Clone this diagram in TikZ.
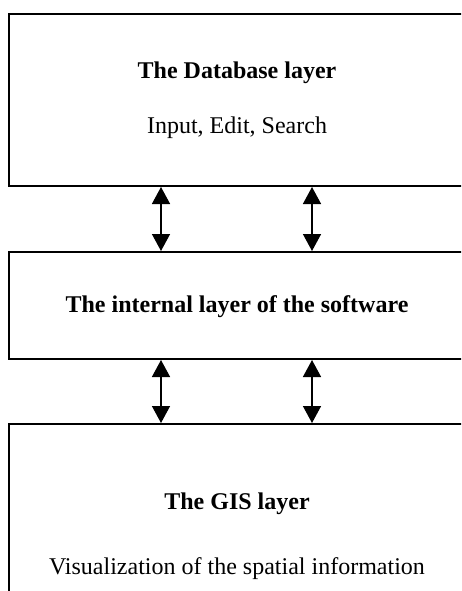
\documentclass[tikz,border=0pt]{standalone}
\usepackage{fontspec}
\setmainfont{Liberation Serif}
\usetikzlibrary{arrows.meta}
\begin{document}
\begin{tikzpicture}[x=1pt,y=-1pt,
  layer/.style={draw=black,line width=2pt,rectangle,minimum width=461pt,inner sep=0pt},
  lbl/.style={font=\fontsize{24}{28}\selectfont,inner sep=0pt},
  blbl/.style={font=\fontsize{24}{28}\selectfont\bfseries,inner sep=0pt},
  arr/.style={line width=1.5pt,{Triangle[width=18pt,length=17pt]}-{Triangle[width=18pt,length=17pt]}}]
\useasboundingbox (0,0) rectangle (461,591);
\clip (0,0) rectangle (461,591);
\node[layer,minimum height=172pt] (db) at (239.5,100) {};
\node[layer,minimum height=107pt] (mid) at (239.5,305.5) {};
\node[layer,minimum height=200pt] (gis) at (239.5,524) {};
\node[blbl] (t1) at (237,73) {The Database layer};
\node[lbl] (t2) at (237,128) {Input, Edit, Search};
\node[blbl] (t3) at (237,307) {The internal layer of the software};
\node[blbl] (t4) at (237,504) {The GIS layer};
\node[lbl] (t5) at (237,569) {Visualization of the spatial information};
\coordinate (c1) at (161,0);
\coordinate (c2) at (312,0);
\draw[arr] (c1 |- db.south) -- (c1 |- mid.north);
\draw[arr] (c2 |- db.south) -- (c2 |- mid.north);
\draw[arr] (c1 |- mid.south) -- (c1 |- gis.north);
\draw[arr] (c2 |- mid.south) -- (c2 |- gis.north);
\end{tikzpicture}
\end{document}
